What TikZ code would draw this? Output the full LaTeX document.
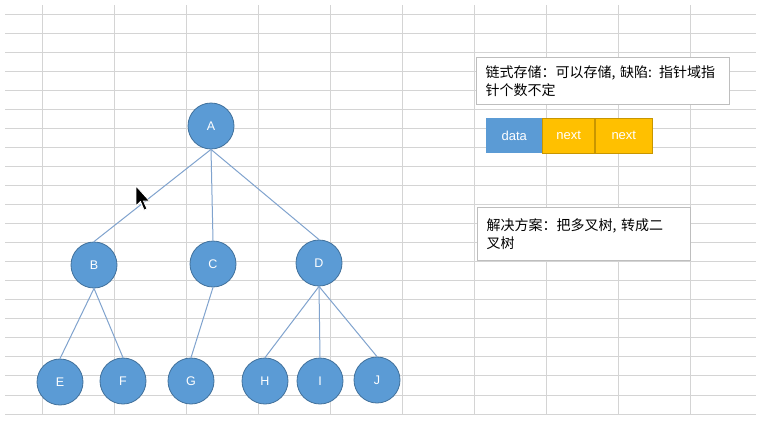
\documentclass[tikz,border=0pt]{standalone}
\usepackage{fontspec}
\setmainfont{Liberation Sans}
\newfontfamily\cjk{Noto Sans CJK SC}
\usepackage{tikz}
\usetikzlibrary{positioning}
\usepackage{xcolor}
\definecolor{nodeblue}  {RGB}{91, 155, 213}
\definecolor{nodeedge}  {RGB}{65, 113, 156}
\definecolor{nextgold}  {RGB}{255, 192, 0}
\definecolor{nextedge}  {RGB}{200, 150, 0}
\definecolor{gridgray}  {RGB}{212, 212, 212}
\definecolor{linkblue}  {RGB}{128, 163, 206}
\definecolor{boxgray}   {RGB}{190, 190, 190}

\begin{document}
\begin{tikzpicture}[x=1pt, y=-1pt,
    treenode/.style={circle, fill=nodeblue, draw=nodeedge, line width=0.8pt,
                     minimum size=46pt, inner sep=0pt, text=white,
                     font=\fontsize{12.5}{14}\selectfont},
    branch/.style={draw=linkblue, line width=1pt},
    notebox/.style={draw=boxgray, line width=1.2pt, fill=white, anchor=north west,
                    align=left, inner xsep=9pt, inner ysep=0pt,
                    font=\cjk\fontsize{14}{18.5}\selectfont},
    cellbox/.style={minimum height=35pt, inner sep=0pt, text=white,
                    font=\fontsize{13}{15}\selectfont}]
  \useasboundingbox (0,0) rectangle (763,437);
  \fill[white] (0,0) rectangle (763,437);

  % sheet grid
  \foreach \row in {0,...,21}
    \draw[gridgray, line width=1pt] (5,14+19.05*\row) -- (756,14+19.05*\row);
  \foreach \col in {0,...,9}
    \draw[gridgray, line width=1pt] (42+72*\col,5) -- (42+72*\col,414);

  % tree
  \node[treenode] (A) at (211,126) {A};
  \node[treenode] (B) at (94,265) {B};
  \node[treenode] (C) at (213,264) {C};
  \node[treenode] (D) at (319,263) {D};
  \node[treenode] (E) at (60,382) {E};
  \node[treenode] (F) at (123,381) {F};
  \node[treenode] (G) at (191,381) {G};
  \node[treenode] (H) at (265,381) {H};
  \node[treenode] (I) at (320,381) {I};
  \node[treenode] (J) at (377,380) {J};

  \foreach \up/\down in {A/B, A/C, A/D, B/E, B/F, C/G, D/H, D/I, D/J}
    \draw[branch] (\up.south) -- (\down.north);

  % notes
  \node[notebox, minimum width=253pt, minimum height=47pt, text width=235pt]
    (linknote) at (476,57) {链式存储：可以存储, 缺陷: 指针域指\\针个数不定};

  \node[cellbox, fill=nodeblue, minimum width=56pt, anchor=north west]
    (datacell) at (486,118) {data};
  \node[cellbox, fill=nextgold, draw=nextedge, line width=0.6pt, minimum width=52pt,
        right=0pt of datacell] (nextone) {next};
  \node[cellbox, fill=nextgold, draw=nextedge, line width=0.6pt, minimum width=57pt,
        right=0pt of nextone] (nexttwo) {next};

  \node[notebox, minimum width=213pt, minimum height=53pt, text width=195pt]
    (fixnote) at (477,207) {解决方案：把多叉树, 转成二\\叉树};

  % mouse pointer
  \filldraw[fill=black, draw=white, line width=0.8pt, shift={(136,186)}]
    (0,0) -- (0,20) -- (4.5,15.5) -- (8,24) -- (11,23) -- (7.5,15) -- (13.5,15) -- cycle;
\end{tikzpicture}
\end{document}
